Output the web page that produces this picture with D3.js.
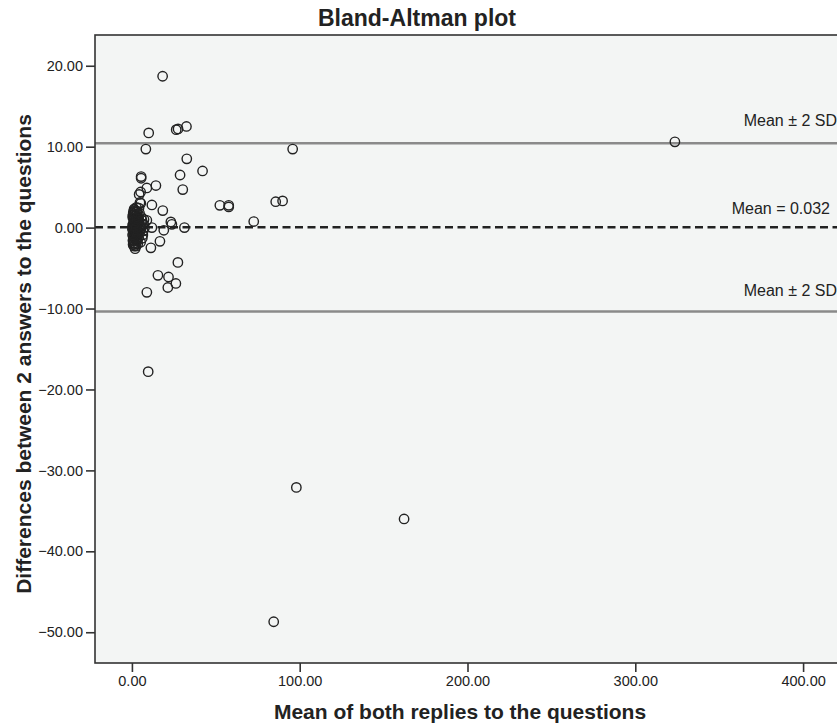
<!DOCTYPE html>
<html>
<head>
<meta charset="utf-8">
<script src="https://cdn.jsdelivr.net/npm/d3@7"></script>
<style>
  body { margin: 0; background: #fff; }
  svg { display: block; font-family: "Liberation Sans", Arial, sans-serif; }
</style>
</head>
<body>
<div id="chart"></div>
<script>
// Mean of both replies (x) and difference between the 2 answers (y)
const meanOfReplies = [
  18.3, 10.0, 26.4, 27.5, 32.5, 8.3, 95.8, 323.6, 32.7, 42.1, 28.7, 5.5, 5.5,
  14.3, 8.9, 30.3, 5.2, 4.3, 4.8, 5.3, 11.9, 18.4, 52.4, 57.7, 57.7, 85.7, 89.8,
  72.6, 23.2, 23.8, 19.0, 11.9, 8.9, 31.3, 16.7, 11.3, 27.4, 15.5, 21.8, 26.2,
  21.4, 8.9, 9.7, 98.0, 162.2, 84.5, 1.4, 1.2, 2.5,
  // dense cluster near zero
  0.5, 0.8, 1.0, 1.2, 1.5, 1.8, 2.0, 2.2, 2.5, 2.8, 3.0, 3.2, 3.5, 3.8, 4.0,
  4.3, 4.6, 5.0, 5.5, 6.0, 6.5, 7.0, 1.0, 1.4, 2.0, 3.0, 4.5, 5.2, 3.5, 0.7,
  0.6, 2.3, 1.6, 3.9, 4.8, 5.8, 6.8, 7.5, 2.7, 4.2, 1.9, 5.6, 6.2, 3.3, 0.9, 7.2,
  0.4, 0.9, 1.3, 1.7, 2.1, 2.6, 3.1, 3.6, 0.3, 0.8, 1.1, 1.5, 2.4, 2.9, 3.4, 4.1,
  0.6, 1.0, 1.4, 1.9, 2.3, 2.8, 3.3, 0.5, 1.2, 1.8, 2.2, 2.7, 0.7, 1.6, 2.0, 3.7,
  0.4, 1.1, 1.5, 2.5, 3.0, 0.9, 1.3, 2.1
];
const differences = [
  18.7, 11.7, 12.1, 12.2, 12.5, 9.7, 9.7, 10.6, 8.5, 7.0, 6.5, 6.3, 6.1,
  5.2, 4.9, 4.7, 4.4, 4.1, 3.1, 3.0, 2.8, 2.1, 2.75, 2.75, 2.55, 3.2, 3.3,
  0.75, 0.7, 0.4, -0.33, 0.0, 0.9, 0.0, -1.7, -2.5, -4.3, -5.9, -6.1, -6.9,
  -7.4, -8.0, -17.8, -32.1, -36.0, -48.7, 2.0, -2.3, -2.3,
  0.0, 0.5, -0.5, 1.0, -1.0, 0.2, -0.2, 1.5, -1.5, 0.8, -0.8, 0.3, -0.3, 1.2, -1.2,
  0.6, -0.6, 0.1, -0.1, 0.9, -0.9, 0.4, 2.0, 2.2, -2.0, 2.0, 1.8, -1.8, -2.0, 1.6,
  -1.6, 0.0, 0.0, 0.0, -0.3, 0.5, -0.4, 0.0, 2.5, 2.4, -2.6, 1.3, -1.3, 1.7, -1.1, 1.0,
  0.3, -0.7, 1.1, -1.4, 0.6, -0.5, 1.3, -0.9, -0.2, 1.8, -1.9, 0.4, -1.0, 0.7, -0.4, 1.0,
  1.2, 0.1, -1.2, 0.9, -0.8, 0.2, -1.6, 1.4, -0.6, -0.1, 1.9, -1.3, -2.1, 0.8, -0.3, -0.6,
  -0.9, 1.6, 0.5, 0.0, 1.1, -1.7, 2.3, -2.2
];

const meanDifference = 0.032;
const upperLimit = 10.43;   // mean + 2 SD
const lowerLimit = -10.37;  // mean - 2 SD

const xTicks = [0, 100, 200, 300, 400];
const yTicks = [20, 10, 0, -10, -20, -30, -40, -50];

const width = 837, height = 725;
const margin = { top: 35, right: -3, bottom: 62, left: 95 };

const svg = d3.select("#chart").append("svg")
  .attr("width", width)
  .attr("height", height);

const x = d3.scaleLinear()
  .domain([-22, 422])
  .range([margin.left, width - margin.right]);

const y = d3.scaleLinear()
  .domain([-53.8, 23.8])
  .range([height - margin.bottom, margin.top]);

// plot background
svg.append("rect")
  .attr("x", x(-22)).attr("y", y(23.8))
  .attr("width", x(422) - x(-22)).attr("height", y(-53.8) - y(23.8))
  .attr("fill", "#f3f5f4");

// limits of agreement and mean line
svg.selectAll("line.limit")
  .data([upperLimit, lowerLimit])
  .join("line")
  .attr("class", "limit")
  .attr("x1", x(-22)).attr("x2", x(422))
  .attr("y1", d => y(d)).attr("y2", d => y(d))
  .attr("stroke", "#8a8a8a")
  .attr("stroke-width", 2.5);

svg.append("line")
  .attr("x1", x(-22)).attr("x2", x(422))
  .attr("y1", y(meanDifference)).attr("y2", y(meanDifference))
  .attr("stroke", "#222")
  .attr("stroke-width", 2.5)
  .attr("stroke-dasharray", "8,4.5");

// points
svg.append("g")
  .selectAll("circle")
  .data(meanOfReplies.map((m, i) => [m, differences[i]]))
  .join("circle")
  .attr("cx", d => x(d[0]))
  .attr("cy", d => y(d[1]))
  .attr("r", 4.7)
  .attr("fill", "none")
  .attr("stroke", "#222")
  .attr("stroke-width", 1.4);

// line labels
svg.append("text")
  .attr("x", 837).attr("y", y(upperLimit) - 17)
  .attr("text-anchor", "end").attr("font-size", 16).attr("fill", "#222")
  .text("Mean \u00b1 2 SD");
svg.append("text")
  .attr("x", 830).attr("y", y(meanDifference) - 13)
  .attr("text-anchor", "end").attr("font-size", 16).attr("fill", "#222")
  .text("Mean = " + meanDifference);
svg.append("text")
  .attr("x", 837).attr("y", y(lowerLimit) - 16)
  .attr("text-anchor", "end").attr("font-size", 16).attr("fill", "#222")
  .text("Mean \u00b1 2 SD");

// frame
svg.append("rect")
  .attr("x", x(-22)).attr("y", y(23.8))
  .attr("width", x(422) - x(-22)).attr("height", y(-53.8) - y(23.8))
  .attr("fill", "none")
  .attr("stroke", "#333")
  .attr("stroke-width", 1.6);

// axes
const fmt = d3.format(".2f");

const xAxis = svg.append("g")
  .attr("transform", `translate(0,${y(-53.8)})`)
  .call(d3.axisBottom(x).tickValues(xTicks).tickFormat(fmt).tickSize(9).tickPadding(4));

const yAxis = svg.append("g")
  .attr("transform", `translate(${x(-22)},0)`)
  .call(d3.axisLeft(y).tickValues(yTicks).tickFormat(fmt).tickSize(9).tickPadding(3));

[xAxis, yAxis].forEach(a => {
  a.select(".domain").remove();
  a.selectAll(".tick line").attr("stroke", "#333").attr("stroke-width", 1.6);
  a.selectAll(".tick text")
    .attr("font-size", 14.5)
    .attr("font-family", "'Liberation Sans', Arial, sans-serif")
    .attr("fill", "#222");
});

// titles
svg.append("text")
  .attr("x", 417).attr("y", 26)
  .attr("text-anchor", "middle")
  .attr("font-size", 23).attr("font-weight", "bold").attr("fill", "#222")
  .text("Bland-Altman plot");

svg.append("text")
  .attr("x", 460).attr("y", 719)
  .attr("text-anchor", "middle")
  .attr("font-size", 21).attr("font-weight", "bold").attr("fill", "#222")
  .text("Mean of both replies to the questions");

svg.append("text")
  .attr("transform", "translate(31,354) rotate(-90)")
  .attr("text-anchor", "middle")
  .attr("font-size", 21).attr("font-weight", "bold").attr("fill", "#222")
  .text("Differences between 2 answers to the questions");
</script>
</body>
</html>
